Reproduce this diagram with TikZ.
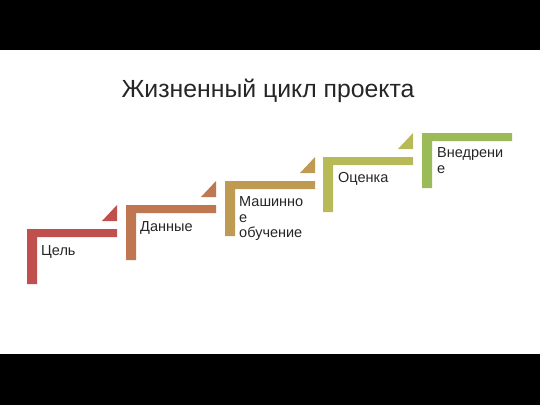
\documentclass[tikz,border=0pt]{standalone}
\usepackage{fontspec}
\setmainfont{Liberation Sans}
\definecolor{c1}{RGB}{192,80,77}
\definecolor{c2}{RGB}{190,119,80}
\definecolor{c3}{RGB}{190,154,83}
\definecolor{c4}{RGB}{184,186,88}
\definecolor{c5}{RGB}{155,187,89}
\tikzset{
  steplabel/.style={anchor=north west, inner sep=0pt, align=left, text=black!85,
    font=\fontsize{14.5}{15.5}\selectfont},
  titlelabel/.style={anchor=base, inner sep=0pt, text=black!85, font=\fontsize{24.8}{28}\selectfont}
}
\newcommand{\stepshape}[4]{% x, y, color, triangle?
  \fill[#3] (#1,#2) -- (#1+90,#2) -- (#1+90,#2+8) -- (#1+10,#2+8) -- (#1+10,#2+55) -- (#1,#2+55) -- cycle;
  \ifnum#4=1
    \fill[#3] (#1+75,#2-8) -- (#1+90,#2-8) -- (#1+90,#2-24) -- cycle;
  \fi
}
\begin{document}
\begin{tikzpicture}[x=1pt,y=-1pt]
\useasboundingbox (0,0) rectangle (540,405);
\fill[white] (0,0) rectangle (540,405);
\fill[black] (0,0) rectangle (540,50);
\fill[black] (0,354) rectangle (540,405);
\node[titlelabel] (title) at (268,97) {Жизненный цикл проекта};
\stepshape{27}{229}{c1}{1}
\stepshape{126}{205}{c2}{1}
\stepshape{225}{181}{c3}{1}
\stepshape{323}{157}{c4}{1}
\stepshape{422}{133}{c5}{0}
\node[steplabel] (s1) at (41,245.6) {Цель};
\node[steplabel] (s2) at (140,221.6) {Данные};
\node[steplabel] (s3) at (239,196.6) {Машинно\\е\\обучение};
\node[steplabel] (s4) at (338,172.6) {Оценка};
\node[steplabel] (s5) at (437,147.6) {Внедрени\\е};
\end{tikzpicture}
\end{document}
